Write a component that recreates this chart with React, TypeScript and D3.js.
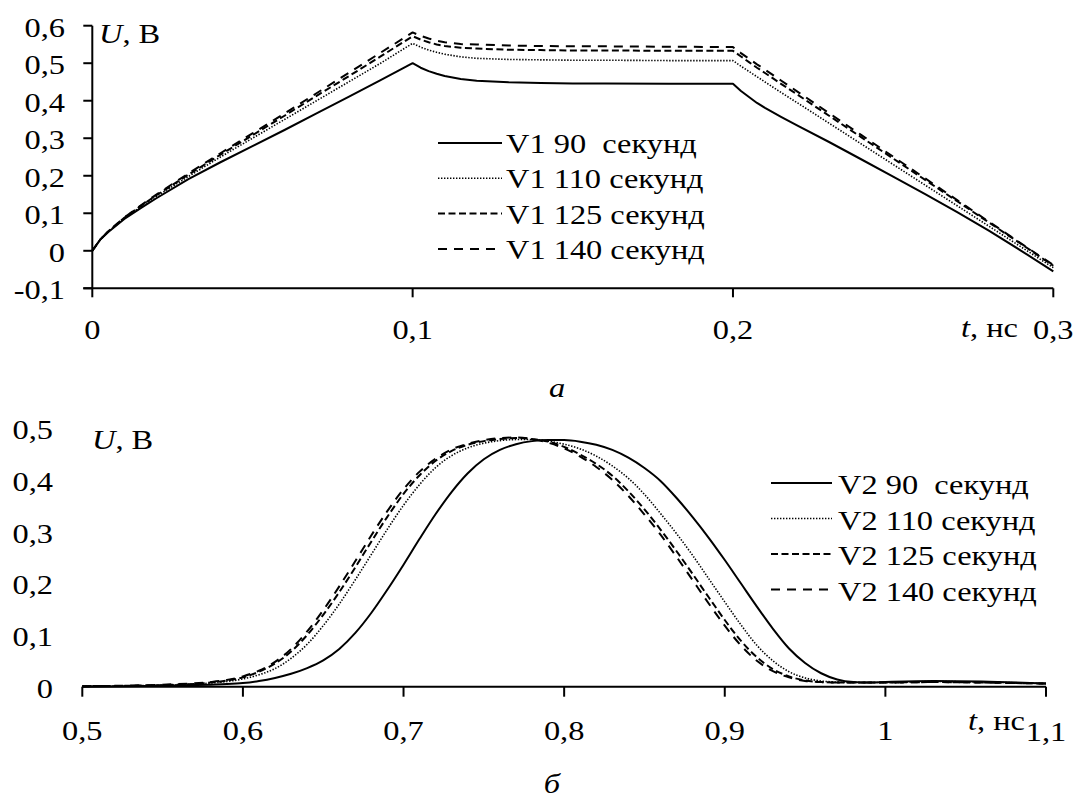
import * as d3 from 'd3';
import React from 'react';

// ---- top chart (a): V1, t from 0 to 0.3 ns
const topT = [0, 0.0025, 0.005, 0.01, 0.015, 0.02, 0.03, 0.04, 0.05, 0.06, 0.07, 0.08, 0.09, 0.1,
  0.1025, 0.105, 0.1075, 0.11, 0.115, 0.12, 0.13, 0.14, 0.15, 0.16, 0.18, 0.2,
  0.2025, 0.205, 0.2075, 0.21, 0.215, 0.22, 0.23, 0.24, 0.25, 0.26, 0.27, 0.28, 0.29, 0.3];
const v1s90 = [0, 0.03, 0.05, 0.085, 0.113, 0.14, 0.191, 0.236, 0.279, 0.322, 0.366, 0.41, 0.455, 0.5,
  0.488, 0.479, 0.472, 0.466, 0.458, 0.453, 0.449, 0.447, 0.446, 0.446, 0.445, 0.445,
  0.426, 0.41, 0.394, 0.381, 0.357, 0.334, 0.29, 0.244, 0.198, 0.151, 0.103, 0.053, 0.0, -0.055];
const v1s110 = [0, 0.03, 0.051, 0.087, 0.117, 0.145, 0.198, 0.25, 0.3, 0.35, 0.4, 0.45, 0.5, 0.553,
  0.543, 0.535, 0.529, 0.524, 0.517, 0.513, 0.51, 0.509, 0.508, 0.508, 0.507, 0.507,
  0.492, 0.478, 0.464, 0.45, 0.422, 0.395, 0.34, 0.285, 0.23, 0.175, 0.12, 0.065, 0.01, -0.045];
const v1s125 = [0, 0.03, 0.052, 0.088, 0.119, 0.148, 0.203, 0.256, 0.308, 0.36, 0.413, 0.465, 0.518, 0.572,
  0.563, 0.556, 0.55, 0.546, 0.541, 0.539, 0.536, 0.535, 0.534, 0.534, 0.533, 0.533,
  0.518, 0.503, 0.488, 0.474, 0.445, 0.417, 0.36, 0.303, 0.246, 0.189, 0.132, 0.075, 0.018, -0.04];
const v1s140 = [0, 0.03, 0.052, 0.089, 0.12, 0.15, 0.206, 0.26, 0.313, 0.366, 0.42, 0.474, 0.528, 0.582,
  0.573, 0.566, 0.56, 0.556, 0.551, 0.55, 0.547, 0.546, 0.545, 0.545, 0.544, 0.543,
  0.527, 0.512, 0.497, 0.483, 0.454, 0.425, 0.367, 0.309, 0.251, 0.193, 0.135, 0.077, 0.019, -0.038];
const topXTicks = [0, 0.1, 0.2, 0.3];
const topYTicks = [-0.1, 0, 0.1, 0.2, 0.3, 0.4, 0.5, 0.6];

// ---- bottom chart (б): V2, t from 0.5 to 1.1 ns
const botT = [0.5, 0.55, 0.58, 0.59, 0.6, 0.61, 0.62, 0.63, 0.64, 0.65, 0.66, 0.67, 0.68, 0.69,
  0.7, 0.71, 0.72, 0.73, 0.74, 0.75, 0.76, 0.77, 0.78, 0.79, 0.8, 0.81, 0.82, 0.83, 0.84, 0.85,
  0.86, 0.87, 0.88, 0.89, 0.9, 0.91, 0.92, 0.93, 0.94, 0.95, 0.96, 0.97, 0.98, 0.99, 1.0,
  1.03, 1.06, 1.1];
const v2s90 = [0, 0.002, 0.004, 0.005, 0.007, 0.011, 0.017, 0.025, 0.036, 0.051, 0.073, 0.104, 0.143, 0.188,
  0.236, 0.286, 0.334, 0.377, 0.413, 0.44, 0.458, 0.469, 0.475, 0.477, 0.477, 0.474, 0.468, 0.458, 0.443, 0.423,
  0.398, 0.365, 0.328, 0.288, 0.245, 0.2, 0.155, 0.112, 0.074, 0.046, 0.026, 0.014, 0.009, 0.008, 0.009,
  0.011, 0.01, 0.006];
const v2s110 = [0.001, 0.003, 0.007, 0.01, 0.015, 0.023, 0.035, 0.055, 0.082, 0.118, 0.16, 0.207, 0.256, 0.305,
  0.351, 0.391, 0.424, 0.447, 0.462, 0.471, 0.476, 0.478, 0.478, 0.475, 0.469, 0.46, 0.446, 0.427, 0.403, 0.372,
  0.335, 0.296, 0.254, 0.209, 0.164, 0.12, 0.08, 0.05, 0.029, 0.017, 0.011, 0.009, 0.008, 0.008, 0.008,
  0.01, 0.009, 0.006];
const v2s125 = [0.001, 0.003, 0.008, 0.012, 0.018, 0.029, 0.045, 0.068, 0.1, 0.139, 0.183, 0.231, 0.281, 0.329,
  0.373, 0.409, 0.437, 0.456, 0.468, 0.475, 0.479, 0.481, 0.479, 0.474, 0.464, 0.449, 0.431, 0.408, 0.378, 0.343,
  0.304, 0.262, 0.218, 0.173, 0.129, 0.089, 0.057, 0.034, 0.02, 0.012, 0.009, 0.008, 0.008, 0.008, 0.008,
  0.009, 0.008, 0.006];
const v2s140 = [0.001, 0.004, 0.009, 0.013, 0.02, 0.031, 0.048, 0.073, 0.107, 0.148, 0.194, 0.243, 0.293, 0.34,
  0.382, 0.416, 0.441, 0.459, 0.47, 0.477, 0.481, 0.482, 0.479, 0.472, 0.461, 0.445, 0.425, 0.4, 0.369, 0.333,
  0.294, 0.251, 0.206, 0.161, 0.118, 0.08, 0.05, 0.03, 0.018, 0.011, 0.009, 0.008, 0.008, 0.008, 0.008,
  0.009, 0.008, 0.006];
const botXTicks = [0.5, 0.6, 0.7, 0.8, 0.9, 1.0, 1.1];
const botYTicks = [0, 0.1, 0.2, 0.3, 0.4, 0.5];

const durations = ['90', '110', '125', '140'];
const dashes = ['none', '1.4 1.6', '7 3.5', '9 7'];
const widths = [2, 1.6, 2, 2];

const fmt = d3.formatLocale({ decimal: ',', thousands: ' ', grouping: [3], currency: ['', ''], minus: '-' }).format('~g');

const FONT = '"Liberation Serif", "Times New Roman", serif';
const FS = 27;
const SX = 1.2; // glyphs in the picture are a bit wider than Times

const Txt = ({ x, y, anchor = 'start', italic = false, children }: any) => (
  <text transform={`translate(${x},${y}) scale(${SX},1)`} textAnchor={anchor}
    fontFamily={FONT} fontSize={FS} fontStyle={italic ? 'italic' : 'normal'} fill="#000"
    style={{ whiteSpace: 'pre' }}>
    {children}
  </text>
);

const App = () => {
  // top scales
  const tx = d3.scaleLinear().domain([0, 0.3]).range([92.3, 1053.3]);
  const ty = d3.scaleLinear().domain([-0.1, 0.6]).range([288.3, 25.7]);
  // bottom scales
  const bx = d3.scaleLinear().domain([0.5, 1.1]).range([82.3, 1046]);
  const by = d3.scaleLinear().domain([0, 0.5]).range([686.7, 428.2]);

  const topSeries = [v1s90, v1s110, v1s125, v1s140];
  const botSeries = [v2s90, v2s110, v2s125, v2s140];

  // trapezoid pulse has sharp corners -> straight segments
  const topLine = d3.line<number>().x((d, i) => tx(topT[i])).y(d => ty(d)).curve(d3.curveLinear);
  const botLine = d3.line<number>().x((d, i) => bx(botT[i])).y(d => by(d)).curve(d3.curveMonotoneX);

  return (
    <svg width={1075} height={798} style={{ position: 'absolute', left: 0, top: 0, background: '#fff' }}>
      <rect width={1075} height={798} fill="#fff" />

      {/* ---------- chart a ---------- */}
      <g stroke="#000" strokeWidth={2} fill="none">
        <line x1={tx(0)} x2={tx(0)} y1={ty(0.6)} y2={ty(-0.1)} />
        <line x1={tx(0) - 9} x2={tx(0.3)} y1={ty(-0.1)} y2={ty(-0.1)} />
        {topYTicks.map(v => <line key={v} x1={tx(0) - 9} x2={tx(0)} y1={ty(v)} y2={ty(v)} />)}
        {topXTicks.map(v => <line key={v} x1={tx(v)} x2={tx(v)} y1={ty(-0.1)} y2={ty(-0.1) + 9} />)}
      </g>
      {topYTicks.map(v => <Txt key={v} x={65} y={ty(v) + 11} anchor="end">{fmt(v)}</Txt>)}
      {topXTicks.map(v => <Txt key={v} x={tx(v)} y={339} anchor="middle">{fmt(v)}</Txt>)}
      <Txt x={99} y={43}><tspan fontStyle="italic">U</tspan>, В</Txt>
      <Txt x={961} y={337}><tspan fontStyle="italic">t</tspan>, нс</Txt>
      <Txt x={557} y={397} anchor="middle" italic>а</Txt>

      {topSeries.map((s, i) => (
        <path key={i} d={topLine(s) || ''} fill="none" stroke="#000" strokeWidth={widths[i]}
          strokeDasharray={dashes[i]} strokeLinejoin="round" />
      ))}
      {durations.map((d, i) => {
        const cy = 144 + i * 35.3;
        return (
          <g key={d}>
            <line x1={438} x2={502} y1={cy - 1} y2={cy - 1} stroke="#000" strokeWidth={widths[i]} strokeDasharray={dashes[i]} />
            <Txt x={506} y={cy + 9}>{`V1 ${d}${d.length < 3 ? '  ' : ' '}секунд`}</Txt>
          </g>
        );
      })}

      {/* ---------- chart б ---------- */}
      <g stroke="#000" strokeWidth={2} fill="none">
        <line x1={bx(0.5)} x2={bx(1.1)} y1={by(0)} y2={by(0)} />
        {botXTicks.map(v => <line key={v} x1={bx(v)} x2={bx(v)} y1={by(0)} y2={by(0) + 10} />)}
      </g>
      {botYTicks.map(v => <Txt key={v} x={53} y={by(v) + 11} anchor="end">{fmt(v)}</Txt>)}
      {botXTicks.map(v => <Txt key={v} x={bx(v)} y={v === 1.1 ? 741 : 740} anchor="middle">{fmt(v)}</Txt>)}
      <Txt x={92} y={449}><tspan fontStyle="italic">U</tspan>, В</Txt>
      <Txt x={968} y={730}><tspan fontStyle="italic">t</tspan>, нс</Txt>
      <Txt x={552} y={793} anchor="middle" italic>б</Txt>

      {botSeries.map((s, i) => (
        <path key={i} d={botLine(s) || ''} fill="none" stroke="#000" strokeWidth={widths[i]}
          strokeDasharray={dashes[i]} />
      ))}
      {durations.map((d, i) => {
        const cy = 485 + i * 35.5;
        return (
          <g key={d}>
            <line x1={771} x2={832} y1={cy - 2} y2={cy - 2} stroke="#000" strokeWidth={widths[i]} strokeDasharray={dashes[i]} />
            <Txt x={838} y={cy + 9}>{`V2 ${d}${d.length < 3 ? '  ' : ' '}секунд`}</Txt>
          </g>
        );
      })}
    </svg>
  );
};

export default App;
